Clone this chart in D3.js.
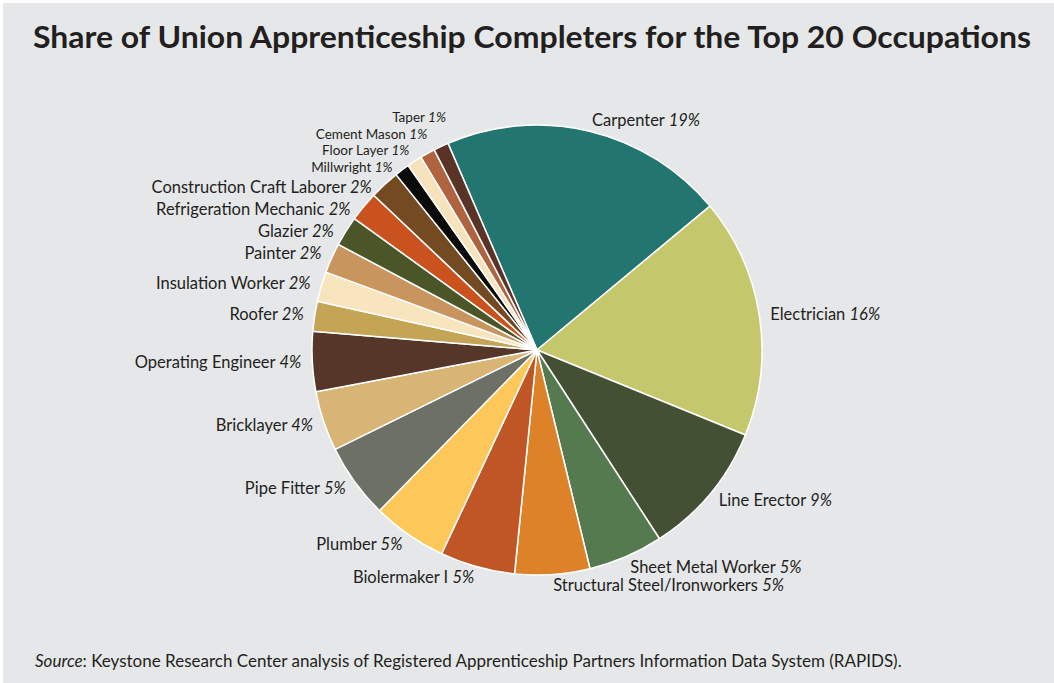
<!DOCTYPE html>
<html>
<head>
<meta charset="utf-8">
<script src="https://cdn.jsdelivr.net/npm/d3@7/dist/d3.min.js"></script>
<style>
  html, body { margin: 0; padding: 0; background: #ffffff; }
  svg { display: block; }
  text { font-family: Lato, "Open Sans", sans-serif; fill: #231f20; }
</style>
</head>
<body>
<svg id="chart" width="1054" height="683"></svg>
<script>
// Occupations, clockwise from Carpenter
const occupations = [
  "Carpenter", "Electrician", "Line Erector", "Sheet Metal Worker",
  "Structural Steel/Ironworkers", "Biolermaker I", "Plumber", "Pipe Fitter",
  "Bricklayer", "Operating Engineer", "Roofer", "Insulation Worker",
  "Painter", "Glazier", "Refrigeration Mechanic", "Construction Craft Laborer",
  "Millwright", "Floor Layer", "Cement Mason", "Taper"
];
// Share of completers (%)
const shares = [19, 16, 9, 5, 5, 5, 5, 5, 4, 4, 2, 2, 2, 2, 2, 2, 1, 1, 1, 1];
const sliceColors = [
  "#23756f", "#c5c76c", "#445034", "#567a50", "#dd8228", "#c05526",
  "#fdc75a", "#6d7165", "#d9b575", "#553629", "#c4a455", "#f8e4bd",
  "#c8955f", "#4a5628", "#c9521f", "#744a23", "#0b0b0b", "#f7e3bb",
  "#b0633f", "#5a3327"
];

const titleText = "Share of Union Apprenticeship Completers for the Top 20 Occupations";
const sourceLabel = "Source";
const sourceText = ": Keystone Research Center analysis of Registered Apprenticeship Partners Information Data System (RAPIDS).";

const W = 1054, H = 683;
const cx = 537, cy = 350, radius = 225;
const startDeg = -23.3;

const svg = d3.select("#chart");

// panel
svg.append("rect").attr("x", 3).attr("y", 3).attr("width", W - 3).attr("height", H - 3)
  .attr("fill", "#e6e7e9");

// title
svg.append("text")
  .attr("x", 532).attr("y", 48)
  .attr("text-anchor", "middle")
  .attr("font-size", 30).attr("font-weight", 700)
  .attr("textLength", 998).attr("lengthAdjust", "spacingAndGlyphs")
  .text(titleText);

const data = occupations.map((name, i) => ({ name, value: shares[i], color: sliceColors[i] }));

const start = startDeg * Math.PI / 180;
const pie = d3.pie().value(d => d.value).sort(null)
  .startAngle(start).endAngle(start + 2 * Math.PI);
const arcs = pie(data);

const arc = d3.arc().innerRadius(0).outerRadius(radius);

const g = svg.append("g").attr("transform", `translate(${cx},${cy})`);
g.selectAll("path.slice")
  .data(arcs)
  .join("path")
  .attr("class", "slice")
  .attr("d", arc)
  .attr("fill", d => d.data.color)
  .attr("stroke", "#ffffff")
  .attr("stroke-width", 1.5)
  .attr("stroke-linejoin", "round");

// label anchors on a ring just outside the pie
const labelR = 236;
const labels = arcs.map(a => {
  const mid = (a.startAngle + a.endAngle) / 2;
  const x = Math.sin(mid) * labelR;
  const y = -Math.cos(mid) * labelR;
  const small = a.data.value <= 1;
  return { a, mid, x, y, y0: y, right: Math.sin(mid) >= 0, small };
});

// relax crowded labels on the upper-left so they keep a minimum spacing
const left = labels.filter(l => !l.right && l.y < 0).sort((p, q) => p.y - q.y);
const minGap = (u, v) => (u.small && v.small) ? 16.5 : (u.small || v.small) ? 20 : 22;
for (let it = 0; it < 300; it++) {
  for (let i = 1; i < left.length; i++) {
    const u = left[i - 1], v = left[i];
    const need = minGap(u, v) - (v.y - u.y);
    if (need > 0) { u.y -= need / 2; v.y += need / 2; }
  }
}
labels.forEach(l => { l.x += (l.y0 - l.y) * 0.5; });

const lab = g.selectAll("text.lab")
  .data(labels)
  .join("text")
  .attr("class", "lab")
  .attr("x", d => d.x)
  .attr("y", d => d.y)
  .attr("dy", "0.35em")
  .attr("text-anchor", d => d.right ? "start" : "end")
  .attr("font-size", d => d.small ? 13.5 : 16.5);

lab.append("tspan").text(d => d.a.data.name + " ");
lab.append("tspan").attr("font-style", "italic").text(d => d.a.data.value + "%");

// source note
const src = svg.append("text").attr("x", 35).attr("y", 667).attr("font-size", 17);
src.append("tspan").attr("font-style", "italic").text(sourceLabel);
src.append("tspan").text(sourceText);
</script>
</body>
</html>
